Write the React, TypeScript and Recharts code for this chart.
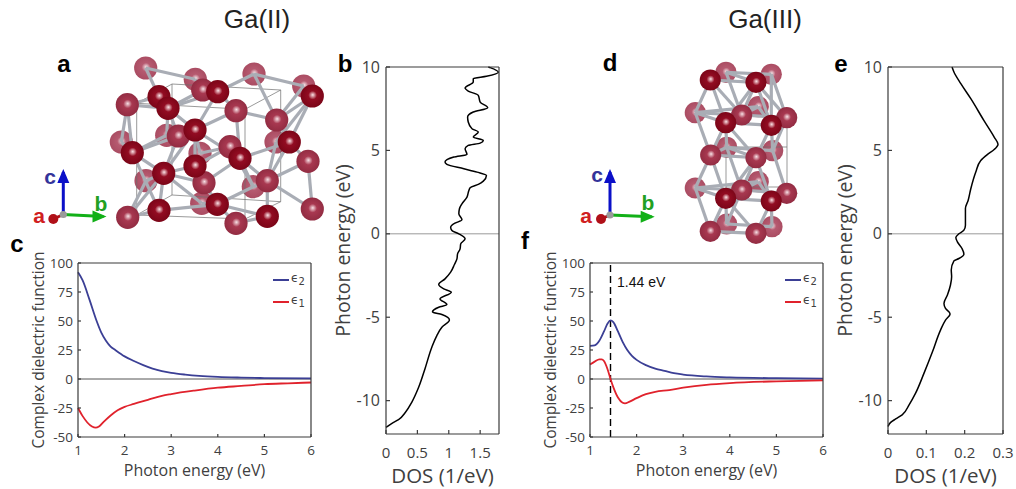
import React from 'react';
import {
  LineChart, Line, XAxis, YAxis, ReferenceLine, Legend,
  ScatterChart, Scatter,
} from 'recharts';

// Dielectric function panels: [photon energy, value]
const eps2II = [[1, 92], [1.1, 85], [1.25, 68], [1.4, 50], [1.5, 40], [1.6, 33], [1.7, 28], [1.8, 25], [2, 19.5], [2.2, 15.5], [2.4, 12], [2.6, 9], [2.8, 6.8], [3, 5.3], [3.3, 3.8], [3.6, 2.7], [4, 1.8], [4.5, 1.2], [5, 0.8], [6, 0.5]];
const eps1II = [[1, -25], [1.1, -32], [1.2, -37.5], [1.3, -41], [1.38, -42], [1.45, -41], [1.55, -37], [1.7, -31.5], [1.85, -27], [2, -24], [2.2, -21.5], [2.5, -18], [2.8, -14.5], [3, -13], [3.5, -10], [4, -7.5], [4.5, -6], [5, -4.5], [5.5, -3.7], [6, -3]];
const eps2III = [[1, 28.5], [1.1, 29], [1.2, 33], [1.3, 41], [1.38, 48], [1.44, 50.5], [1.5, 49], [1.6, 41], [1.7, 32], [1.8, 25], [1.9, 20], [2, 16.5], [2.2, 12], [2.4, 9], [2.6, 7], [2.8, 5], [3, 3.8], [3.5, 2.2], [4, 1.4], [5, 0.7], [6, 0.4]];
const eps1III = [[1, 12.5], [1.1, 15], [1.2, 17], [1.25, 17], [1.3, 15.5], [1.38, 8], [1.44, 0], [1.5, -7], [1.6, -16], [1.7, -20.5], [1.75, -21], [1.85, -19.5], [2, -16.5], [2.2, -13], [2.4, -11], [2.7, -9.5], [3, -7.5], [3.5, -5], [4, -3.5], [5, -2], [6, -1.2]];

// DOS panels: [dos, energy]
const dosII = [[0, -11.6], [0.095, -11.36], [0.2, -11.14], [0.31, -10.7], [0.41, -10.1], [0.52, -9.2], [0.62, -8.1], [0.73, -6.8], [0.81, -6.1], [0.89, -5.6], [1.01, -5.16], [0.89, -4.84], [0.74, -4.68], [0.84, -4.4], [0.97, -4.24], [0.86, -3.9], [1.04, -3.5], [0.92, -3.3], [0.84, -3.04], [0.94, -2.7], [1.03, -2.3], [1.09, -1.84], [1.13, -1.5], [1.14, -1.2], [1.18, -0.9], [1.19, -0.6], [1.26, -0.3], [1.16, 0], [1.05, 0.2], [1.03, 0.4], [1.1, 0.64], [1.21, 0.84], [1.16, 1.2], [1.17, 1.5], [1.21, 1.8], [1.29, 2.2], [1.32, 2.6], [1.34, 2.76], [1.47, 2.96], [1.55, 3.16], [1.6, 3.5], [1.45, 3.7], [1.24, 3.9], [0.97, 4.16], [0.94, 4.3], [1.08, 4.6], [1.29, 4.76], [1.26, 5.1], [1.31, 5.3], [1.5, 5.44], [1.55, 5.6], [1.39, 5.8], [1.47, 6.1], [1.37, 6.3], [1.31, 6.7], [1.3, 7], [1.39, 7.3], [1.62, 7.56], [1.5, 7.9], [1.47, 8.3], [1.31, 8.56], [1.26, 8.74], [1.39, 9.1], [1.39, 9.3], [1.6, 9.44], [1.79, 9.68], [1.66, 9.96], [1.63, 10]];
const dosIII = [[0, -11.55], [0.007, -11.3], [0.02, -11.1], [0.037, -10.85], [0.055, -10.25], [0.072, -9.55], [0.094, -8.35], [0.116, -7.07], [0.137, -5.77], [0.15, -5.17], [0.162, -4.8], [0.15, -4.47], [0.146, -4.17], [0.155, -3.67], [0.163, -3.07], [0.166, -2.57], [0.165, -2.17], [0.172, -1.62], [0.185, -1.48], [0.198, -1.22], [0.193, -0.88], [0.181, -0.48], [0.177, -0.22], [0.185, 0], [0.198, 0.22], [0.202, 0.52], [0.202, 1.52], [0.209, 2], [0.216, 2.7], [0.229, 3.7], [0.242, 4.4], [0.259, 4.75], [0.277, 5.05], [0.287, 5.37], [0.277, 5.8], [0.25, 6.8], [0.216, 8.1], [0.19, 9], [0.172, 9.7], [0.167, 10]];

const epsXTicks = [1, 2, 3, 4, 5, 6];
const epsYTicks = [-50, -25, 0, 25, 50, 75, 100];
const dosYTicks = [-10, -5, 0, 5, 10];
const dosIITicks = [0, 0.5, 1, 1.5];
const dosIIITicks = [0, 0.1, 0.2, 0.3];

// Crystal drawings: atom centres in picture pixels, grouped back to front
const backII = { A0: [145.7, 68], A1: [195.3, 79.3], A2: [254, 74], A3: [303.7, 86], A4: [121.3, 142], A5: [166.7, 135.3], A6: [276, 142], A7: [200, 153.3], A8: [146, 180.7], A9: [253.3, 186.7], A10: [201.7, 203.3] };
const midII = { M0: [202.7, 90], M1: [127.3, 104.7], M2: [276.7, 120], M3: [230, 146.7], M4: [308, 161.3], M5: [178.3, 136], M6: [204, 182.7], M7: [267.3, 180.7], M8: [127.7, 217.3], M9: [236, 223.3], M10: [312.3, 209], M11: [236, 110.7] };
const frontII = { D0: [159, 96.7], D1: [168, 108.3], D2: [217.7, 91.7], D3: [312.3, 96], D4: [195, 130], D5: [289.3, 142], D6: [132.3, 152.7], D7: [240, 158.3], D8: [163.7, 173.3], D9: [195, 166], D10: [159, 210.3], D11: [217.3, 204.3], D12: [267.3, 216.3] };
const bondsII = 'A0-A1 A0-D0 D2-A2 A2-A3 A2-M2 A3-M2 D3-M2 D3-D5 M1-D0 M1-D6 M1-A4 M1-D1 D1-D4 D1-M5 D2-D4 D2-D1 D2-M11 M11-D4 M11-M2 M11-D7 D4-D9 D4-D7 D4-D8 M5-D8 D6-M5 D6-D8 A4-D6 A8-D8 D8-D9 D8-M6 D8-D10 D9-M6 M6-D11 M6-D7 D9-M3 D7-M3 D7-D5 D7-M7 D7-A9 M7-D5 M7-M4 M7-D12 M7-A9 M4-M10 M4-D5 D5-A6 D5-M2 D10-M8 D10-D11 M8-D8 M8-A8 D11-D12 D11-M9 D11-A10 M9-D12 A10-D8 A6-D3 D6-D10 M0-D1 A5-D6 A5-D1 A7-D4 A7-M3 A9-D11 A9-M3 A6-M7 A1-M0 M7-M10'.split(' ');
const cellII = [[[172, 84], [280.7, 90]], [[136.7, 103.3], [245, 109.3]], [[136.7, 103.3], [172, 84]], [[245, 109.3], [280.7, 90]], [[136.7, 215], [245, 219]], [[172, 195], [280.7, 201.7]], [[136.7, 215], [172, 195]], [[245, 219], [280.7, 201.7]], [[136.7, 103.3], [136.7, 215]], [[172, 84], [172, 195]], [[245, 109.3], [245, 219]], [[280.7, 90], [280.7, 201.7]]];

const backIII = { L0: [726, 72.3], L1: [771.3, 74.3], L2: [695.3, 112.7], L3: [758.3, 106.7], L4: [726.7, 147.3], L5: [772.7, 150.7], L6: [695.3, 188], L7: [758.3, 181.7], L8: [726.7, 224], L9: [772, 226.7] };
const midIII = { M0: [741.7, 115], M1: [786.7, 117.7], M2: [710.7, 155], M3: [756, 157.7], M4: [741.7, 190], M5: [786.7, 193.3], M6: [710.3, 231.3], M7: [756, 233.3] };
const frontIII = { D0: [710.3, 80], D1: [756, 82.3], D2: [725.7, 122.7], D3: [771.3, 125.3], D4: [725.7, 198.3], D5: [771.3, 201] };
const bondsIII = 'L0-L1 D0-D1 D0-L2 D0-D2 D0-M0 D1-D2 D1-M1 D1-D3 D1-M0 L1-M1 L1-D3 L0-D1 L2-M0 L2-D2 L2-M2 D2-D3 M0-M1 D2-M2 D2-M3 D3-M3 D3-M1 M2-M3 L4-L5 L4-M3 L5-M1 M2-L6 M2-D4 M3-D4 M3-D5 M3-M4 L6-M4 L6-D4 L6-M6 D4-D5 M4-M5 D4-M6 D4-M7 D5-M7 D5-M5 M6-M7 L8-L9 L8-D4 L9-D5 L4-M4 L5-M5 L3-M0 L3-D3 L7-M4 L7-D5 L2-L3 L6-L7 L4-D2 L5-D3 L0-M0 M2-L4 L8-M4'.split(' ');
const cellIII = [[[726, 147], [787, 147]], [[726, 147], [726, 195]], [[787, 128], [787, 187]], [[726, 187], [787, 187]]];

// Axis triads: origin, arrow tips
const triadII = { a: [53.3, 219], o: [63.3, 214.5], c: [63.3, 172], b: [103.5, 216.5] };
const triadIII = { a: [601, 219], o: [610, 215], c: [610, 172], b: [651.7, 216.7] };

const BLUE = '#3b3f95';
const RED = '#e0222c';
const AXIS = '#3a3a3a';
const TEXT = '#404040';
const FONT = '"Open Sans", sans-serif';

const asPoint = ([x, y]: number[]) => ({ x, y });
const atomList = (atoms: Record<string, number[]>) => Object.values(atoms).map(asPoint);

const atomShape = (grad: string, r: number) => (p: any) =>
  <circle cx={p.cx} cy={p.cy} r={r} fill={`url(#${grad})`} />;
const noShape = () => <g />;
const upHead = (fill: string) => (p: any) =>
  <polygon points={`${p.cx},${p.cy - 3} ${p.cx - 6},${p.cy + 11} ${p.cx + 6},${p.cy + 11}`} fill={fill} />;
const rightHead = (fill: string) => (p: any) =>
  <polygon points={`${p.cx + 3},${p.cy} ${p.cx - 11},${p.cy - 6} ${p.cx - 11},${p.cy + 6}`} fill={fill} />;
const dotShape = (fill: string, r: number) => (p: any) =>
  <circle cx={p.cx} cy={p.cy} r={r} fill={fill} />;

function segment(key: string, a: number[], b: number[], stroke: string, width: number) {
  return (
    <Scatter
      key={key}
      data={[asPoint(a), asPoint(b)]}
      line={{ stroke, strokeWidth: width }}
      shape={noShape}
      isAnimationActive={false}
    />
  );
}

function crystal(prefix: string, back: any, mid: any, front: any, bonds: string[], cell: number[][][], triad: any, r: number) {
  const all = { ...back, ...mid, ...front };
  return [
    <Scatter key={prefix + 'back'} data={atomList(back)} shape={atomShape('atomBack', r)} isAnimationActive={false} />,
    ...cell.map((c, i) => segment(`${prefix}cell${i}`, c[0], c[1], '#6f6f6f', 0.7)),
    ...bonds.map((b) => {
      const [p, q] = b.split('-');
      return segment(`${prefix}${b}`, all[p], all[q], '#a9adb5', 3.2);
    }),
    <Scatter key={prefix + 'mid'} data={atomList(mid)} shape={atomShape('atomMid', r)} isAnimationActive={false} />,
    <Scatter key={prefix + 'front'} data={atomList(front)} shape={atomShape('atomFront', r)} isAnimationActive={false} />,
    segment(prefix + 'axC', triad.o, triad.c, '#0b10c8', 3),
    segment(prefix + 'axB', triad.o, triad.b, '#12b018', 3),
    segment(prefix + 'axA', triad.o, triad.a, '#b01018', 3),
    <Scatter key={prefix + 'hC'} data={[asPoint(triad.c)]} shape={upHead('#0b10c8')} isAnimationActive={false} />,
    <Scatter key={prefix + 'hB'} data={[asPoint(triad.b)]} shape={rightHead('#12b018')} isAnimationActive={false} />,
    <Scatter key={prefix + 'hA'} data={[asPoint(triad.a)]} shape={dotShape('#b01018', 5)} isAnimationActive={false} />,
    <Scatter key={prefix + 'hO'} data={[asPoint(triad.o)]} shape={dotShape('#9a9a9a', 3.6)} isAnimationActive={false} />,
  ];
}

function gradient(id: string, base: string, edge: string, glow: string) {
  return (
    <radialGradient id={id} cx="0.5" cy="0.5" r="0.55" fx="0.52" fy="0.45">
      <stop offset="0" stopColor={glow} />
      <stop offset="0.34" stopColor={base} />
      <stop offset="1" stopColor={edge} />
    </radialGradient>
  );
}

function Crystals() {
  return (
    <ScatterChart width={1016} height={489} margin={{ top: 0, right: 0, bottom: 0, left: 0 }} style={{ position: 'absolute', left: 0, top: 0 }}>
      <defs>
        {gradient('atomBack', '#b65a70', '#a84a60', '#f5e6e9')}
        {gradient('atomMid', '#a83850', '#8f2a40', '#f7e2e6')}
        {gradient('atomFront', '#920c22', '#780416', '#fbe4e7')}
      </defs>
      <XAxis type="number" dataKey="x" domain={[0, 1016]} hide />
      <YAxis type="number" dataKey="y" domain={[0, 489]} reversed hide />
      {crystal('two', backII, midII, frontII, bondsII, cellII, triadII, 11.6)}
      {crystal('three', backIII, midIII, frontIII, bondsIII, cellIII, triadIII, 10.6)}
    </ScatterChart>
  );
}

const EpsLegend = () => (
  <div style={{ fontFamily: '"DejaVu Sans"', fontSize: 12, color: TEXT, width: 42 }}>
    {[[BLUE, '2'], [RED, '1']].map(([c, n]) => (
      <div key={n} style={{ display: 'flex', alignItems: 'center', height: 22 }}>
        <div style={{ width: 16, height: 2, background: c, marginRight: 2 }} />
        <span>ϵ<sub style={{ fontSize: 10 }}>{n}</sub></span>
      </div>
    ))}
  </div>
);

const PeakLabel = (p: any) => (
  <text x={p.viewBox.x + 6.5} y={p.viewBox.y + 24} fontSize={14} fontFamily='"Liberation Sans"' fill="#111">1.44 eV</text>
);

const SideTitle = ({ cx, cy, size, value }: any) => (
  <text x={cx} y={cy} transform={`rotate(-90 ${cx} ${cy})`} textAnchor="middle" dominantBaseline="central"
    fontSize={size} fill={TEXT} fontFamily={FONT}>{value}</text>
);

function EpsPanel({ left, top, e1, e2, peak }: any) {
  const yw = 80;
  const w = 233;
  const h = 174;
  const pad = 30;
  const axis = { stroke: AXIS, strokeWidth: 1.2 };
  return (
    <LineChart
      width={yw + w + 14}
      height={h + pad + 66}
      margin={{ top: pad - 1, right: 13, bottom: 0, left: 0 }}
      style={{ position: 'absolute', left: left - yw, top: top - pad }}
    >
      <XAxis type="number" dataKey="e" domain={[1, 6]} ticks={epsXTicks} interval={0} height={66} allowDuplicatedCategory={false}
        stroke={AXIS} axisLine={axis} tickLine={axis} tickSize={-3} tickMargin={11}
        tick={{ fontSize: 13.5, fill: TEXT, fontFamily: FONT }}
        label={{ value: 'Photon energy (eV)', position: 'center', fontSize: 16, fill: TEXT, fontFamily: FONT }} />
      <XAxis xAxisId="top" orientation="top" type="number" domain={[1, 6]} ticks={epsXTicks} interval={0} height={1}
        stroke={AXIS} axisLine={axis} tickLine={axis} tickSize={-3} tick={false} />
      <YAxis type="number" domain={[-50, 100]} ticks={epsYTicks} interval={0} width={yw}
        stroke={AXIS} axisLine={axis} tickLine={axis} tickSize={-3} tickMargin={8}
        tick={{ fontSize: 13.5, fill: TEXT, fontFamily: FONT }}
        label={<SideTitle cx={yw / 2} cy={pad + h / 2} size={15.5} value="Complex dielectric function" />} />
      <YAxis yAxisId="right" orientation="right" type="number" domain={[-50, 100]} ticks={epsYTicks} interval={0} width={1}
        stroke={AXIS} axisLine={axis} tickLine={axis} tickSize={-3} tick={false} />
      <ReferenceLine y={0} stroke="#555" strokeWidth={1} />
      {peak !== undefined && (
        <ReferenceLine x={peak} stroke="#000" strokeWidth={1.4} strokeDasharray="7 4" label={PeakLabel} />
      )}
      <Line data={e2.map(([e, v]: number[]) => ({ e, v }))} dataKey="v" type="monotone" stroke={BLUE} strokeWidth={1.8} dot={false} isAnimationActive={false} />
      <Line data={e1.map(([e, v]: number[]) => ({ e, v }))} dataKey="v" type="monotone" stroke={RED} strokeWidth={1.8} dot={false} isAnimationActive={false} />
      <Legend content={EpsLegend} layout="horizontal" verticalAlign="middle" align="center"
        wrapperStyle={{ position: 'absolute', left: yw + 195, top: pad + 6, width: 42, bottom: 'auto' }} />
    </LineChart>
  );
}

function DosPanel({ left, top, width, dos, xMax, xTicks }: any) {
  const yw = 88;
  const h = 367;
  const pad = 14;
  const axis = { stroke: AXIS, strokeWidth: 1.2 };
  const rows = dos.map(([d, energy]: number[]) => ({ d, energy }));
  return (
    <LineChart
      layout="vertical"
      data={rows}
      width={yw + width + 14}
      height={h + pad + 84}
      margin={{ top: pad - 1, right: 13, bottom: 0, left: 0 }}
      style={{ position: 'absolute', left: left - yw, top: top - pad }}
    >
      <XAxis type="number" domain={[0, xMax]} ticks={xTicks} interval={0} height={84}
        stroke={AXIS} axisLine={axis} tickLine={axis} tickSize={-4} tickMargin={17}
        tick={{ fontSize: 15, fill: TEXT, fontFamily: FONT }}
        label={{ value: 'DOS (1/eV)', position: 'center', fontSize: 20.5, fill: TEXT, fontFamily: FONT }} />
      <XAxis xAxisId="top" orientation="top" type="number" domain={[0, xMax]} ticks={xTicks} interval={0} height={1}
        stroke={AXIS} axisLine={axis} tickLine={axis} tickSize={-4} tick={false} />
      <YAxis type="number" dataKey="energy" domain={[-12, 10]} ticks={dosYTicks} interval={0} width={yw} reversed
        stroke={AXIS} axisLine={axis} tickLine={axis} tickSize={-4} tickMargin={10}
        tick={{ fontSize: 16, fill: TEXT, fontFamily: FONT }}
        label={<SideTitle cx={yw / 2} cy={pad + h / 2} size={19.5} value="Photon energy (eV)" />} />
      <YAxis yAxisId="right" orientation="right" type="number" domain={[-12, 10]} ticks={dosYTicks} interval={0} width={1} reversed
        stroke={AXIS} axisLine={axis} tickLine={axis} tickSize={-4} tick={false} />
      <ReferenceLine y={0} stroke="#9a9a9a" strokeWidth={1} />
      <Line dataKey="d" type="monotone" stroke="#000" strokeWidth={1.5} dot={false} isAnimationActive={false} />
    </LineChart>
  );
}

const Note = ({ x, y, size, color, weight, children }: any) => (
  <div style={{
    position: 'absolute', left: x, top: y, transform: 'translate(-50%,-50%)', fontSize: size, color: color ?? '#000',
    fontWeight: weight ?? 'bold', fontFamily: '"Liberation Sans"', lineHeight: 1, whiteSpace: 'nowrap',
  }}>{children}</div>
);

export default function App() {
  return (
    <div style={{ position: 'absolute', left: 0, top: 0, width: 1016, height: 489, background: '#fff', overflow: 'hidden' }}>
      <Crystals />
      <EpsPanel left={78} top={262.5} e1={eps1II} e2={eps2II} />
      <EpsPanel left={590} top={262.5} e1={eps1III} e2={eps2III} peak={1.44} />
      <DosPanel left={386} top={66.7} width={113} dos={dosII} xMax={1.8} xTicks={dosIITicks} />
      <DosPanel left={887.5} top={66.7} width={115} dos={dosIII} xMax={0.3} xTicks={dosIIITicks} />
      <Note x={257} y={19} size={26} weight="normal" color="#222">Ga(II)</Note>
      <Note x={765} y={19} size={26} weight="normal" color="#222">Ga(III)</Note>
      <Note x={64} y={64} size={24}>a</Note>
      <Note x={345} y={64} size={24}>b</Note>
      <Note x={17} y={244} size={24}>c</Note>
      <Note x={610} y={63} size={24}>d</Note>
      <Note x={841} y={64} size={24}>e</Note>
      <Note x={525} y={241} size={24}>f</Note>
      <Note x={50} y={176} size={21} color="#34349a">c</Note>
      <Note x={101} y={203} size={21} color="#22a022">b</Note>
      <Note x={39} y={215} size={21} color="#d02020">a</Note>
      <Note x={597} y={174} size={21} color="#34349a">c</Note>
      <Note x={648} y={202} size={21} color="#22a022">b</Note>
      <Note x={586} y={215} size={21} color="#d02020">a</Note>
    </div>
  );
}
